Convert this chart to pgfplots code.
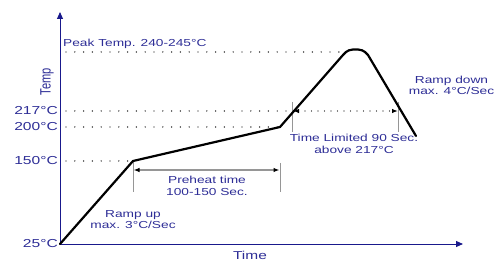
\documentclass[border=0pt]{standalone}
\usepackage{fontspec}
\setmainfont{Liberation Sans}[FakeStretch=1.35]
\newfontfamily\tallfont{Liberation Sans}[FakeStretch=0.74]
\usepackage{pgfplots}
\pgfplotsset{compat=1.18}
\usetikzlibrary{arrows.meta}
\definecolor{txtblue}{RGB}{45,45,150}
\definecolor{axblue}{RGB}{25,25,140}
\definecolor{lgray}{RGB}{150,150,150}
\begin{document}
\begin{tikzpicture}
\begin{axis}[
  scale only axis, width=403bp, height=232bp,
  xmin=0, xmax=403, ymin=0, ymax=232,
  axis lines=left,
  axis line style={draw=axblue, line width=0.9bp, -{Triangle[length=7bp,width=6bp]}},
  xtick=\empty,
  ytick={0,83,117,133},
  yticklabels={\mbox{25°C},\mbox{150°C},\mbox{200°C},\mbox{217°C}},
  major tick length=0pt,
  yticklabel style={font=\fontsize{11.6}{13}\selectfont, text=txtblue, anchor=east, inner sep=0pt, xshift=-2bp},
  clip=false,
]
% dotted guide lines
\addplot[black, line width=1.4bp, line cap=round, dash pattern=on 0bp off 8.8bp] coordinates {(6,83) (73,83)};
\addplot[black, line width=1.4bp, line cap=round, dash pattern=on 0bp off 8.8bp] coordinates {(6,117) (220,117)};
\addplot[black, line width=1.4bp, line cap=round, dash pattern=on 0bp off 8.8bp] coordinates {(6,133) (233,133)};
\addplot[black, line width=1.4bp, line cap=round, dash pattern=on 0bp off 8.8bp] coordinates {(6,192) (280,192)};
% time limited arrow
\addplot[black, line width=1.2bp, line cap=round, dash pattern=on 0bp off 6.5bp, {Latex[length=6bp,width=4.5bp,black]}-{Latex[length=6bp,width=4.5bp,black]}] coordinates {(233,133) (338,133)};
\addplot[lgray, line width=0.9bp] coordinates {(232.5,142) (232.5,112)};
\addplot[lgray, line width=0.9bp] coordinates {(338.5,142) (338.5,112)};
% preheat arrow
\addplot[lgray, line width=0.9bp] coordinates {(73,82) (73,52)};
\addplot[lgray, line width=0.9bp] coordinates {(220,81) (220,52)};
\addplot[lgray, line width=1.1bp, {Latex[length=6bp,width=4.5bp,black]}-{Latex[length=6bp,width=4.5bp,black]}] coordinates {(73.5,74) (219.5,74)};
% profile
\addplot[black, line width=2.2bp, line join=round, line cap=round] coordinates {
  (0,0) (73,83) (220,117) (283,189) (286,192) (289,193.7) (293,194.5) (298,194.5) (302,193.7) (305,192) (308,189) (356,108)};
% texts
\node[anchor=west, text=txtblue, font=\fontsize{10.2}{11.5}\selectfont, inner sep=0pt] at (axis cs:3,200) {Peak Temp. 240-245°C};
\node[align=center, text=txtblue, font=\fontsize{10.2}{12}\selectfont, inner sep=0pt] at (axis cs:147,58.5) {Preheat time\\100-150 Sec.};
\node[align=center, text=txtblue, font=\fontsize{10.2}{11}\selectfont, inner sep=0pt] at (axis cs:73,24.5) {Ramp up\\max. 3°C/Sec};
\node[align=center, text=txtblue, font=\fontsize{10.2}{12}\selectfont, inner sep=0pt] at (axis cs:294,100) {Time Limited 90 Sec.\\above 217°C};
\node[align=center, text=txtblue, font=\fontsize{10.2}{11}\selectfont, inner sep=0pt] at (axis cs:391.5,158.5) {Ramp down\\max. 4°C/Sec};
\node[text=txtblue, font=\fontsize{11.5}{13}\selectfont, inner sep=0pt] at (axis cs:190,-11) {Time};
\node[text=txtblue, font=\tallfont\fontsize{15}{17}\selectfont, inner sep=0pt, rotate=90] at (axis cs:-13,162) {Temp};
\coordinate (bbsw) at (axis cs:-60,-18);
\coordinate (bbne) at (axis cs:439,244);
\end{axis}
\pgfresetboundingbox
\path[use as bounding box] (bbsw) rectangle (bbne);
\end{tikzpicture}
\end{document}
